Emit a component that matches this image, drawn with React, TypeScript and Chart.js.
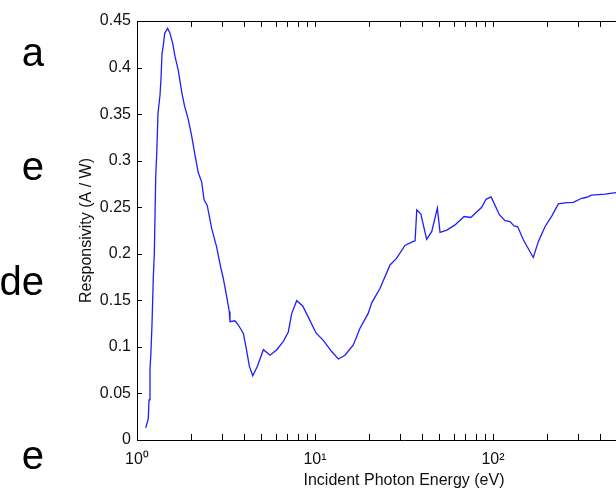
import React, { useEffect, useRef } from 'react';
import { Chart, registerables } from 'chart.js';

Chart.register(...registerables);

// Incident photon energy (eV)
const energy = [
  1.12, 1.157, 1.168, 1.183, 1.195, 1.214, 1.235, 1.251, 1.274, 1.29, 1.312, 1.346, 1.364, 1.382, 1.406, 1.431,
  1.487, 1.531, 1.587, 1.635, 1.706, 1.783, 1.844, 1.942, 2.03, 2.118, 2.21, 2.31, 2.38, 2.48, 2.63, 2.8, 2.95,
  3.05, 3.19, 3.3, 3.33, 3.55, 3.71, 3.96, 4.13, 4.28, 4.47, 4.74, 5.13, 5.59, 6.1, 6.64, 7.08, 7.4, 7.89, 8.53,
  9.17, 10.13, 11.13, 12.41, 13.52, 14.74, 16.41, 17.9, 19.9, 20.8, 23.2, 26.4, 28.7, 32.0, 35.4, 36.5, 37.3,
  39.3, 42.4, 45.3, 48.7, 50.4, 55.0, 61.2, 68.8, 75.0, 86.4, 91.4, 97.5, 100.4, 108.6, 116.8, 124.6, 131.2,
  137.7, 148, 168.4, 179.7, 195.9, 213.7, 232.9, 259.5, 282.8, 315, 336, 358, 426, 491, 530,
];

// Responsivity (A / W)
const responsivity = [
  0.013, 0.023, 0.043, 0.077, 0.09, 0.124, 0.175, 0.2, 0.283, 0.306, 0.351, 0.37, 0.388, 0.415, 0.424, 0.437,
  0.442, 0.437, 0.426, 0.412, 0.397, 0.374, 0.36, 0.344, 0.326, 0.306, 0.287, 0.277, 0.258, 0.252, 0.227, 0.2075, 0.186,
  0.174, 0.154, 0.138, 0.127, 0.128, 0.1235, 0.1145, 0.096, 0.079, 0.069, 0.079, 0.097, 0.091, 0.097, 0.106, 0.116, 0.136, 0.1496, 0.144,
  0.132, 0.115, 0.107, 0.095, 0.087, 0.091, 0.102, 0.12, 0.136, 0.147, 0.163, 0.188, 0.195, 0.209, 0.213, 0.214, 0.247,
  0.243, 0.2155, 0.224, 0.249, 0.223, 0.2255, 0.231, 0.24, 0.239, 0.25, 0.2585, 0.261, 0.256, 0.242, 0.2355, 0.2345, 0.23,
  0.229, 0.215, 0.196, 0.213, 0.229, 0.2405, 0.2535, 0.255, 0.2553, 0.2596, 0.2607, 0.263, 0.264, 0.2656, 0.266,
];

const yTickValues = [0, 0.05, 0.1, 0.15, 0.2, 0.25, 0.3, 0.35, 0.4, 0.45];
const decadeLabels: Record<string, string> = { '1': '10⁰', '10': '10¹', '100': '10²', '1000': '10³' };
const slideWords = ['a', 'e', 'de', 'e'];
const slideWordTops = [32, 146, 261, 435];

const xTitle = 'Incident Photon Energy (eV)';
const yTitle = 'Responsivity (A / W)';

const boxTicks = {
  id: 'boxTicks',
  afterDraw(chart: any) {
    const { ctx, chartArea } = chart;
    const { left, right, top, bottom } = chartArea;
    const xs = chart.scales.x;
    const ys = chart.scales.y;
    ctx.save();
    ctx.strokeStyle = '#000';
    ctx.lineWidth = 1;
    ctx.beginPath();
    ctx.rect(Math.round(left) + 0.5, Math.round(top) + 0.5, Math.round(right - left), Math.round(bottom - top));
    const xVals: number[] = [];
    for (let d = 1; d <= 100; d *= 10) for (let k = 1; k <= 9; k++) xVals.push(k * d);
    xVals.push(1000);
    xVals.forEach((v) => {
      const px = Math.round(xs.getPixelForValue(v)) + 0.5;
      ctx.moveTo(px, bottom);
      ctx.lineTo(px, bottom - 6);
      ctx.moveTo(px, top);
      ctx.lineTo(px, top + 6);
    });
    yTickValues.forEach((v) => {
      const py = Math.round(ys.getPixelForValue(v)) + 0.5;
      ctx.moveTo(left, py);
      ctx.lineTo(left + 5, py);
      ctx.moveTo(right, py);
      ctx.lineTo(right - 5, py);
    });
    ctx.stroke();
    ctx.restore();
  },
};

function ResponsivityChart() {
  const ref = useRef<HTMLCanvasElement | null>(null);
  useEffect(() => {
    if (!ref.current) return;
    const chart = new Chart(ref.current, {
      type: 'line',
      data: {
        datasets: [
          {
            data: energy.map((e, i) => ({ x: e, y: responsivity[i] })),
            borderColor: 'rgb(30,30,255)',
            borderWidth: 1.3,
            pointRadius: 0,
            tension: 0,
            fill: false,
          },
        ],
      },
      options: {
        animation: false,
        responsive: false,
        devicePixelRatio: 1,
        layout: { padding: { left: 76, top: 21, right: 29, bottom: 0 } },
        plugins: { legend: { display: false }, tooltip: { enabled: false } },
        scales: {
          x: {
            type: 'logarithmic',
            min: 1,
            max: 1000,
            grid: { display: false, drawTicks: false },
            border: { display: false },
            afterFit: (s: any) => {
              s.height = 58;
            },
            ticks: {
              autoSkip: false,
              maxRotation: 0,
              padding: 10,
              color: '#111',
              font: { family: "'Liberation Sans', Arial, sans-serif", size: 16 },
              callback: (v: any) => decadeLabels[String(v)] ?? '',
            },
            title: {
              display: true,
              text: xTitle,
              color: '#111',
              font: { family: "'Liberation Sans', Arial, sans-serif", size: 16 },
              padding: { top: 0, bottom: 8 },
            },
          },
          y: {
            min: 0,
            max: 0.45,
            grid: { display: false, drawTicks: false },
            border: { display: false },
            afterFit: (s: any) => {
              s.width = 61;
            },
            afterBuildTicks: (s: any) => {
              s.ticks = yTickValues.map((v) => ({ value: v }));
            },
            ticks: {
              padding: 6,
              color: '#111',
              font: { family: "'Liberation Sans', Arial, sans-serif", size: 16 },
              callback: (v: any) => String(Number(Number(v).toFixed(2))),
            },
            title: {
              display: true,
              text: yTitle,
              color: '#111',
              font: { family: "'Liberation Sans', Arial, sans-serif", size: 16 },
              padding: { top: 1, bottom: 0 },
            },
          },
        },
      },
      plugins: [boxTicks],
    } as any);
    return () => chart.destroy();
  }, []);
  return <canvas ref={ref} width={700} height={498} style={{ position: 'absolute', left: 0, top: 0 }} />;
}

export default function App() {
  return (
    <div
      style={{
        position: 'fixed',
        left: 0,
        top: 0,
        width: 616,
        height: 498,
        overflow: 'hidden',
        background: '#fff',
      }}
    >
      <ResponsivityChart />
      {slideWords.map((w, i) => (
        <div
          key={i}
          style={{
            position: 'absolute',
            right: 572,
            top: slideWordTops[i],
            fontFamily: "'Liberation Sans', Arial, sans-serif",
            fontSize: 40,
            lineHeight: '40px',
            color: '#000',
            whiteSpace: 'nowrap',
          }}
        >
          {w}
        </div>
      ))}
    </div>
  );
}
